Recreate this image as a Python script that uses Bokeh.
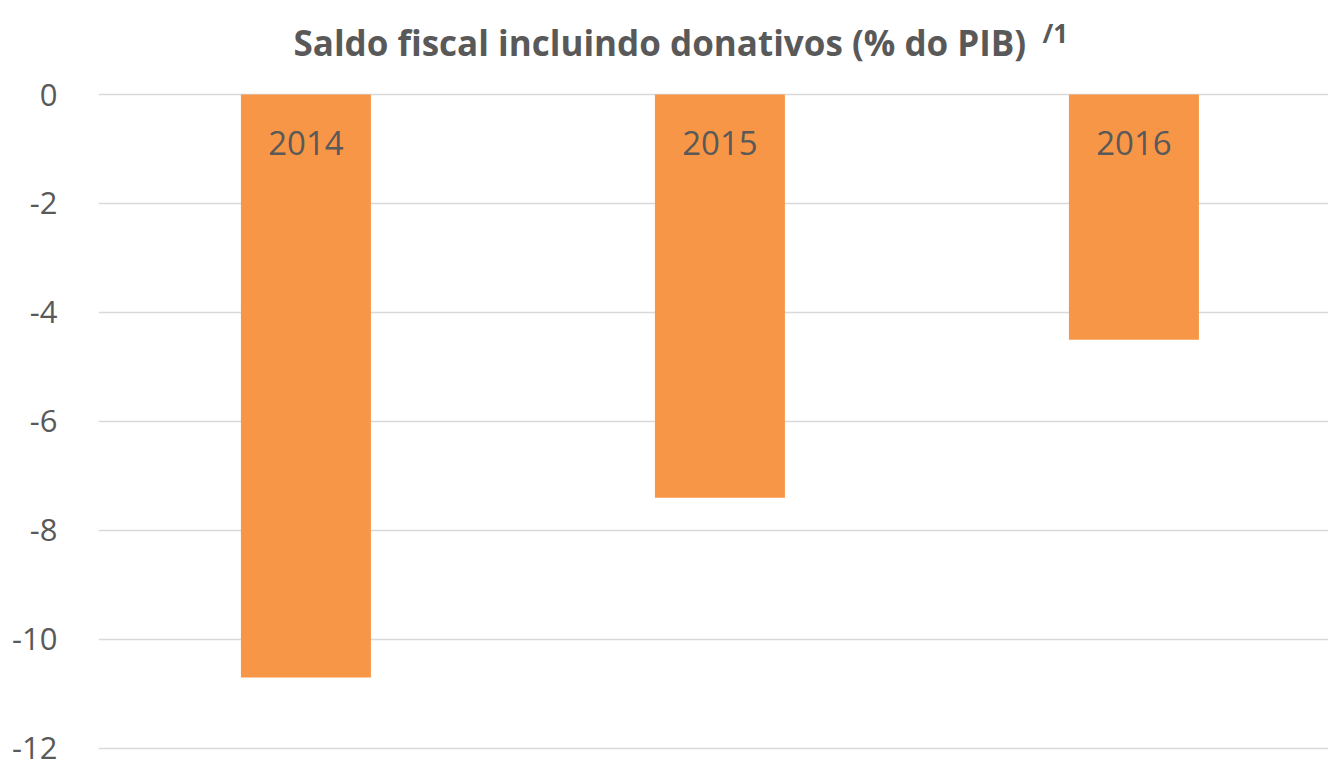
from bokeh.plotting import figure
from bokeh.models import Range1d, FixedTicker, ColumnDataSource, Label
from bokeh.core.properties import value
from bokeh.embed import file_html
from bokeh.resources import INLINE

years = ["2014", "2015", "2016"]
saldo = [-10.7, -7.4, -4.5]
y_ticks = [0, -2, -4, -6, -8, -10, -12]
title_text = "Saldo fiscal incluindo donativos (% do PIB)"
title_note = "/1"

TEXT = "#595959"
BAR = "#F79646"
FONT = "Open Sans"

xs = list(range(len(years)))
src = ColumnDataSource(dict(x=xs, top=[0] * len(years), bottom=saldo, label=years))

p = figure(width=1328, height=761, output_backend="svg", toolbar_location=None,
           x_range=Range1d(-0.501, 2.470), y_range=Range1d(-12.042, 1.726),
           min_border_left=98, min_border_right=0, min_border_top=0, min_border_bottom=11)

p.vbar(x="x", top="top", bottom="bottom", width=0.314, source=src,
       fill_color=BAR, line_color=None)
p.text(x="x", y="top", text="label", source=src, text_font=value(FONT),
       text_font_size="33px", text_color=TEXT, text_align="center",
       text_baseline="middle", y_offset=48)

p.xaxis.visible = False
p.xgrid.visible = False
p.ygrid.grid_line_color = "#D9D9D9"
p.ygrid.grid_line_width = 1.5
p.yaxis.ticker = FixedTicker(ticks=y_ticks)
p.yaxis.major_label_overrides = {t: str(t) for t in y_ticks}
p.yaxis.axis_line_color = None
p.yaxis.major_tick_line_color = None
p.yaxis.minor_tick_line_color = None
p.yaxis.major_label_standoff = 35
p.yaxis.major_label_text_font = FONT
p.yaxis.major_label_text_font_size = "31px"
p.yaxis.major_label_text_color = TEXT
p.outline_line_color = None

p.add_layout(Label(x=195, y=708, x_units="screen", y_units="screen", text=title_text,
                   text_font=FONT, text_font_size="35px", text_font_style="bold",
                   text_color=TEXT, text_baseline="alphabetic"))
p.add_layout(Label(x=944, y=718, x_units="screen", y_units="screen", text=title_note,
                   text_font=FONT, text_font_size="26px", text_font_style="bold",
                   text_color=TEXT, text_baseline="alphabetic"))

open("out.html", "w").write(file_html(p, INLINE))
